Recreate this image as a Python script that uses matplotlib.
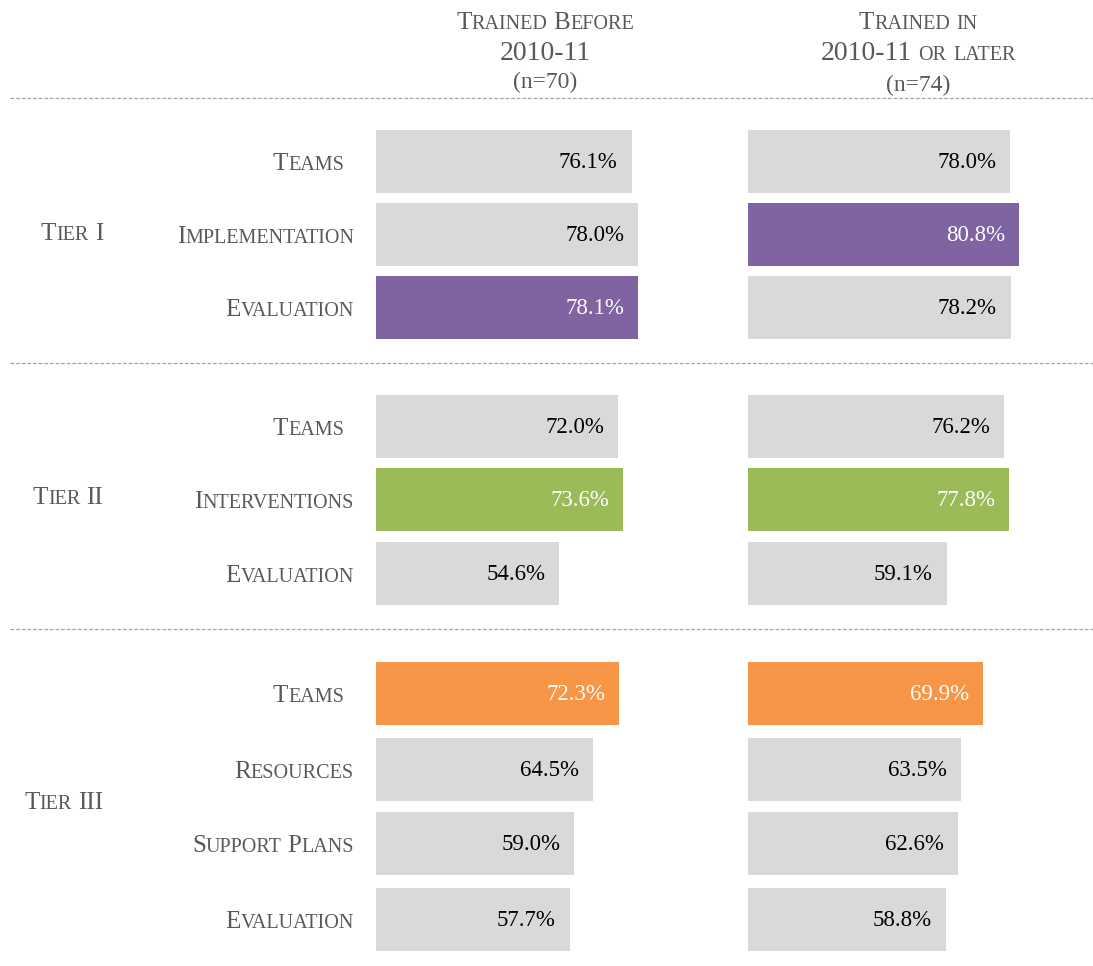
import matplotlib
matplotlib.use('Agg')
import matplotlib.pyplot as plt

W, H, DPI = 1093, 966, 100
FONT = 'Liberation Serif'
TXT = '#595959'
GRAY = '#D9D9D9'
PURPLE = '#8064A2'
GREEN = '#9BBB59'
ORANGE = '#F79646'

# data
tiers = ['Tier I', 'Tier II', 'Tier III']
tier_rows = [3, 3, 4]
categories = ['Teams', 'Implementation', 'Evaluation',
              'Teams', 'Interventions', 'Evaluation',
              'Teams', 'Resources', 'Support Plans', 'Evaluation']
before = [76.1, 78.0, 78.1, 72.0, 73.6, 54.6, 72.3, 64.5, 59.0, 57.7]
after = [78.0, 80.8, 78.2, 76.2, 77.8, 59.1, 69.9, 63.5, 62.6, 58.8]
before_colors = [GRAY, GRAY, PURPLE, GRAY, GREEN, GRAY, ORANGE, GRAY, GRAY, GRAY]
after_colors = [GRAY, PURPLE, GRAY, GRAY, GREEN, GRAY, ORANGE, GRAY, GRAY, GRAY]
header_before = ['Trained Before', '2010-11', '(n=70)']
header_after = ['Trained in', '2010-11 or later', '(n=74)']

# layout (image pixels, y from top)
row_y = [161, 234, 307, 426, 499, 573, 693, 769, 843, 919]
tier_y = [240, 504, 809]
divider_y = [98, 363, 629]
BAR_H = 63
PX_PER = 3.36          # pixels per percentage point
COL_W = 340
col_x = [376, 748]

fig = plt.figure(figsize=(W / DPI, H / DPI), dpi=DPI)
bg = fig.add_axes([0, 0, 1, 1])
bg.set_xlim(0, W)
bg.set_ylim(H, 0)
bg.axis('off')
renderer = fig.canvas.get_renderer()


def smallcaps(x, y, s, big, small, ha='left', color=TXT):
    # fake small caps: lowercase letters drawn as smaller capitals
    pieces = []
    cursor = 0
    space = big * DPI / 72 * 0.24
    for wi, word in enumerate(s.split(' ')):
        if wi:
            cursor += space
        runs = []
        for ch in word:
            sz = small if ch.islower() else big
            if runs and runs[-1][1] == sz:
                runs[-1][0] += ch.upper()
            else:
                runs.append([ch.upper(), sz])
        for t, sz in runs:
            txt = bg.text(0, y, t, fontsize=sz, color=color, family=FONT,
                          va='baseline', ha='left')
            w = txt.get_window_extent(renderer).width
            pieces.append((txt, cursor))
            cursor += w
    if ha == 'right':
        x0 = x - cursor
    elif ha == 'center':
        x0 = x - cursor / 2
    else:
        x0 = x
    for txt, dx in pieces:
        txt.set_x(x0 + dx)


# dividers
for y in divider_y:
    bg.plot([10, W], [y, y], color='#A6A6A6', lw=0.9, ls=(0, (3, 1.5)))

# headers
for cx, hdr, ny in [(545, header_before, 88), (918, header_after, 91)]:
    smallcaps(cx, 29, hdr[0], 18, 14.5, ha='center')
    smallcaps(cx, 60, hdr[1], 20, 14.5, ha='center')
    bg.text(cx, ny, hdr[2], fontsize=17, color=TXT, family=FONT,
            ha='center', va='baseline')

# tier labels
for name, y in zip(tiers, tier_y):
    smallcaps(103, y, name, 18, 14.5, ha='right')

# category labels
for cat, y in zip(categories, row_y):
    xr = 344 if cat == 'Teams' else 354
    smallcaps(xr, y + 9, cat, 18, 14.5, ha='right')

# bars
for x0, vals, cols in [(col_x[0], before, before_colors),
                       (col_x[1], after, after_colors)]:
    ax = fig.add_axes([x0 / W, 0, COL_W / W, 1])
    ax.set_xlim(0, COL_W / PX_PER)
    ax.set_ylim(H, 0)
    ax.axis('off')
    ax.barh(row_y, vals, height=BAR_H, color=cols, linewidth=0)
    for v, y, c in zip(vals, row_y, cols):
        tc = 'black' if c == GRAY else 'white'
        ax.annotate(f'{v:.1f}%', xy=(v, y), xytext=(-14, -7),
                    textcoords='offset pixels', ha='right', va='baseline',
                    fontsize=16.5, color=tc, family=FONT)

fig.savefig('out.png', dpi=DPI)
